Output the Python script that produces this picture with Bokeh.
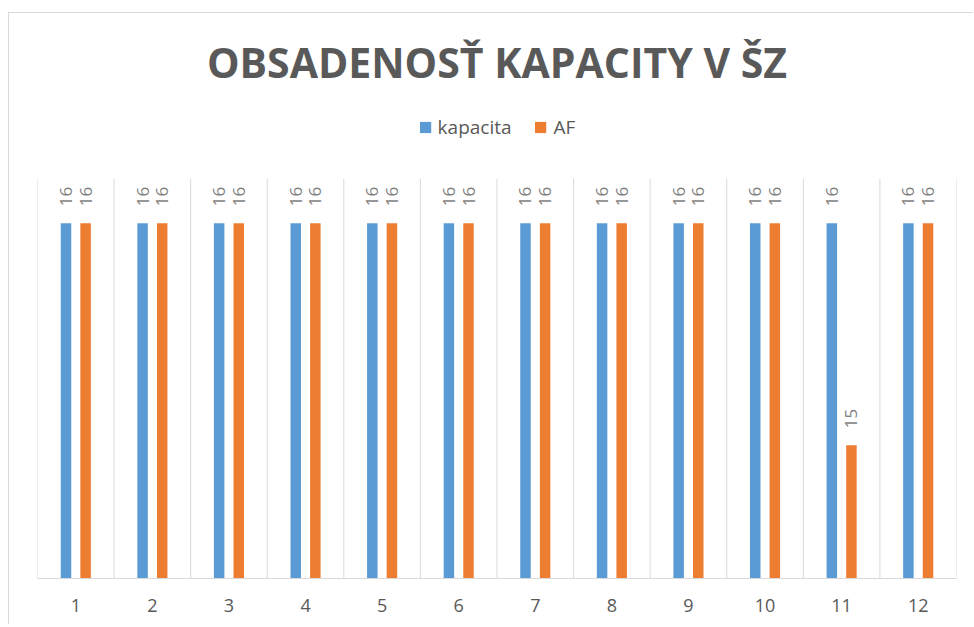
import math
from bokeh.plotting import figure
from bokeh.models import (ColumnDataSource, Legend, LegendItem, FixedTicker,
                          Range1d, Title)
from bokeh.transform import dodge
from bokeh.core.properties import value
from bokeh.embed import file_html
from bokeh.resources import INLINE

# ---- data ----
categories = ["1", "2", "3", "4", "5", "6", "7", "8", "9", "10", "11", "12"]
kapacita = [16, 16, 16, 16, 16, 16, 16, 16, 16, 16, 16, 16]
af = [16, 16, 16, 16, 16, 16, 16, 16, 16, 16, 15, 16]

# value axis (hidden) limits, as in the original chart
AXIS_MIN = 14.4
AXIS_MAX = 16.2          # top of the plotting area (category separators end here)
HEADER_MAX = 16.553      # extra room on top of the plotting area for the legend

xpos = list(range(1, len(categories) + 1))
src = ColumnDataSource(dict(
    x=xpos, cat=categories, kapacita=kapacita, af=af,
    kap_lbl=[str(v) for v in kapacita], af_lbl=[str(v) for v in af],
))
bounds = [i + 0.5 for i in range(len(categories) + 1)]
sep = ColumnDataSource(dict(x=bounds, y0=[AXIS_MIN] * len(bounds),
                            y1=[AXIS_MAX] * len(bounds)))

BLUE = "#5B9BD5"
ORANGE = "#ED7D31"
GRID = "#D9D9D9"
FONT = "Open Sans"

p = figure(width=965, height=612, output_backend="svg", toolbar_location=None,
           x_range=Range1d(0.5, len(categories) + 0.5),
           y_range=Range1d(AXIS_MIN, HEADER_MAX),
           y_axis_location=None, title=None,
           min_border_left=28, min_border_right=18, min_border_top=87,
           min_border_bottom=47,
           styles={"margin-left": "8px", "margin-top": "12px",
                   "border-left": "1px solid #D9D9D9",
                   "border-top": "1px solid #D9D9D9"})
p.outline_line_color = None
p.background_fill_color = "white"
p.border_fill_color = "white"
p.xgrid.grid_line_color = None
p.ygrid.grid_line_color = None

# category separators (vertical gridlines between categories)
p.segment(x0="x", y0="y0", x1="x", y1="y1", source=sep,
          line_color=GRID, line_width=1)

off = 0.128
bw = 0.137
r1 = p.vbar(x=dodge("x", -off), top="kapacita", bottom=AXIS_MIN, width=bw,
            source=src, fill_color=BLUE, line_color=None)
r2 = p.vbar(x=dodge("x", off), top="af", bottom=AXIS_MIN, width=bw,
            source=src, fill_color=ORANGE, line_color=None)

for xo, ycol, col in ((-off, "kapacita", "kap_lbl"), (off, "af", "af_lbl")):
    p.text(x=dodge("x", xo), y=ycol, text=col, source=src,
           angle=math.pi / 2, text_align="left", text_baseline="middle",
           y_offset=-17, text_color="#7F7F7F",
           text_font=value(FONT), text_font_size="17px")

# x axis
ax = p.xaxis[0]
ax.ticker = FixedTicker(ticks=xpos)
ax.major_label_overrides = {x: c for x, c in zip(xpos, categories)}
ax.axis_line_color = GRID
ax.axis_line_width = 1
ax.major_tick_line_color = None
ax.minor_tick_line_color = None
ax.major_tick_out = 0
ax.major_tick_in = 0
ax.major_label_standoff = 20
ax.major_label_text_font = FONT
ax.major_label_text_font_size = "18px"
ax.major_label_text_color = "#595959"

legend = Legend(items=[LegendItem(label="kapacita", renderers=[r1]),
                       LegendItem(label="AF", renderers=[r2])],
                orientation="horizontal", location="top_center",
                glyph_width=14, glyph_height=14, label_standoff=6, spacing=22,
                padding=2, margin=14, border_line_color=None,
                background_fill_alpha=0,
                label_text_font=FONT, label_text_font_size="19px",
                label_text_color="#595959")
p.add_layout(legend, "center")

title = Title(text="OBSADENOSŤ KAPACITY V ŠZ", align="center",
              text_font=FONT, text_font_size="41px", text_font_style="bold",
              text_color="#595959", standoff=21)
p.add_layout(title, "above")

open("out.html", "w").write(file_html(p, INLINE))
